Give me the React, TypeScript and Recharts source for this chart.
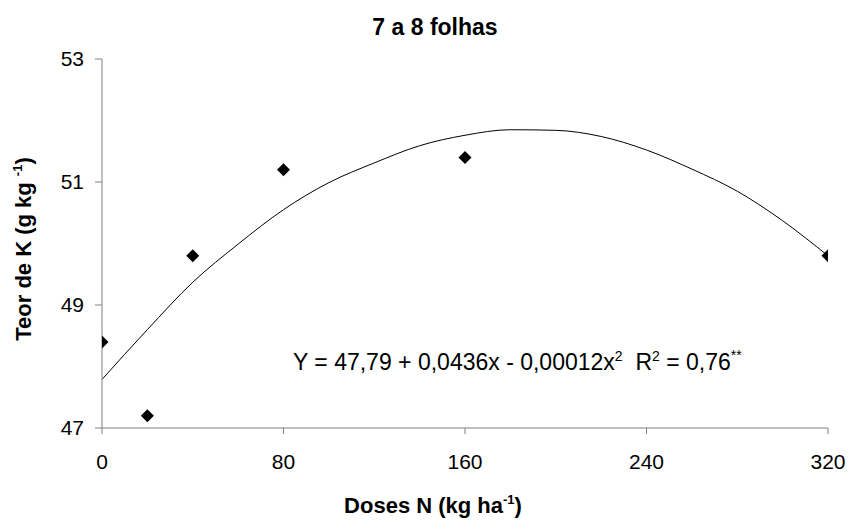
import React from "react";
import {
  ComposedChart,
  Line,
  Scatter,
  XAxis,
  YAxis,
  Customized,
} from "recharts";

// Observed K content at each N dose
const doses = [0, 20, 40, 80, 160, 320];
const teorK = [48.4, 47.2, 49.8, 51.2, 51.4, 49.8];

// Fitted quadratic trend, sampled along the dose range
const curveDoses = [0, 20, 40, 60, 80, 100, 120, 140, 160, 180, 200, 220, 240, 260, 280, 300, 320];
const curveK = [47.79, 48.6, 49.37, 49.99, 50.55, 50.99, 51.31, 51.59, 51.76, 51.85, 51.84, 51.74, 51.52, 51.21, 50.85, 50.37, 49.8];

const xTicks = [0, 80, 160, 240, 320];
const yTicks = [47, 49, 51, 53];

const titleText = "7 a 8 folhas";
const xLabelText = "Doses N (kg ha";
const yLabelText = "Teor de K (g kg ";

const points = doses.map((x, i) => ({ x, y: teorK[i] }));
const curve = curveDoses.map((x, i) => ({ x, y: curveK[i] }));

const FONT = '"Liberation Sans", Arial, sans-serif';
const AXIS_COLOR = "#808080";

const Diamond = (props: any) => {
  const { cx, cy } = props;
  const r = 6.5;
  return (
    <polygon
      points={`${cx},${cy - r} ${cx + r},${cy} ${cx},${cy + r} ${cx - r},${cy}`}
      fill="#000"
    />
  );
};

const Texts = () => (
  <g fontFamily={FONT} fill="#000">
    <text x={435} y={35} textAnchor="middle" fontSize={23} fontWeight="bold">
      {titleText}
    </text>
    <text x={433} y={513} textAnchor="middle" fontSize={22} fontWeight="bold">
      <tspan>{xLabelText}</tspan>
      <tspan fontSize={13} dy={-9}>-1</tspan>
      <tspan dy={9}>)</tspan>
    </text>
    <text
      transform="translate(31,249) rotate(-90)"
      textAnchor="middle"
      fontSize={22}
      fontWeight="bold"
    >
      <tspan>{yLabelText}</tspan>
      <tspan fontSize={13} dy={-9}>-1</tspan>
      <tspan dy={9}>)</tspan>
    </text>
    <text x={293} y={370} fontSize={23}>
      <tspan>Y = 47,79 + 0,0436x - 0,00012x</tspan>
      <tspan fontSize={14} dy={-9}>2</tspan>
      <tspan dy={9}>{"\u00a0\u00a0R"}</tspan>
      <tspan fontSize={14} dy={-9}>2</tspan>
      <tspan dy={9}> = 0,76</tspan>
      <tspan fontSize={14} dy={-10}>**</tspan>
    </text>
  </g>
);

export default function App() {
  return (
    <div style={{ position: "absolute", left: 0, top: 0, background: "#fff" }}>
      <ComposedChart
        width={850}
        height={520}
        margin={{ top: 59, right: 22, bottom: 0, left: 0 }}
      >
        <XAxis
          type="number"
          dataKey="x"
          domain={[0, 320]}
          ticks={xTicks}
          allowDataOverflow
          tickSize={6}
          tickMargin={20}
          height={92}
          axisLine={{ stroke: AXIS_COLOR }}
          tickLine={{ stroke: AXIS_COLOR }}
          tick={{ fill: "#000", fontSize: 21, fontFamily: FONT }}
        />
        <YAxis
          type="number"
          dataKey="y"
          domain={[47, 53]}
          ticks={yTicks}
          allowDataOverflow
          width={102}
          tickSize={7}
          tickMargin={11}
          axisLine={{ stroke: AXIS_COLOR }}
          tickLine={{ stroke: AXIS_COLOR }}
          tick={{ fill: "#000", fontSize: 21, fontFamily: FONT }}
        />
        <Line
          data={curve}
          dataKey="y"
          type="monotone"
          stroke="#000"
          strokeWidth={1}
          dot={false}
          activeDot={false}
          isAnimationActive={false}
        />
        <Scatter
          data={points}
          dataKey="y"
          shape={<Diamond />}
          isAnimationActive={false}
        />
        <Customized component={Texts} />
      </ComposedChart>
    </div>
  );
}
